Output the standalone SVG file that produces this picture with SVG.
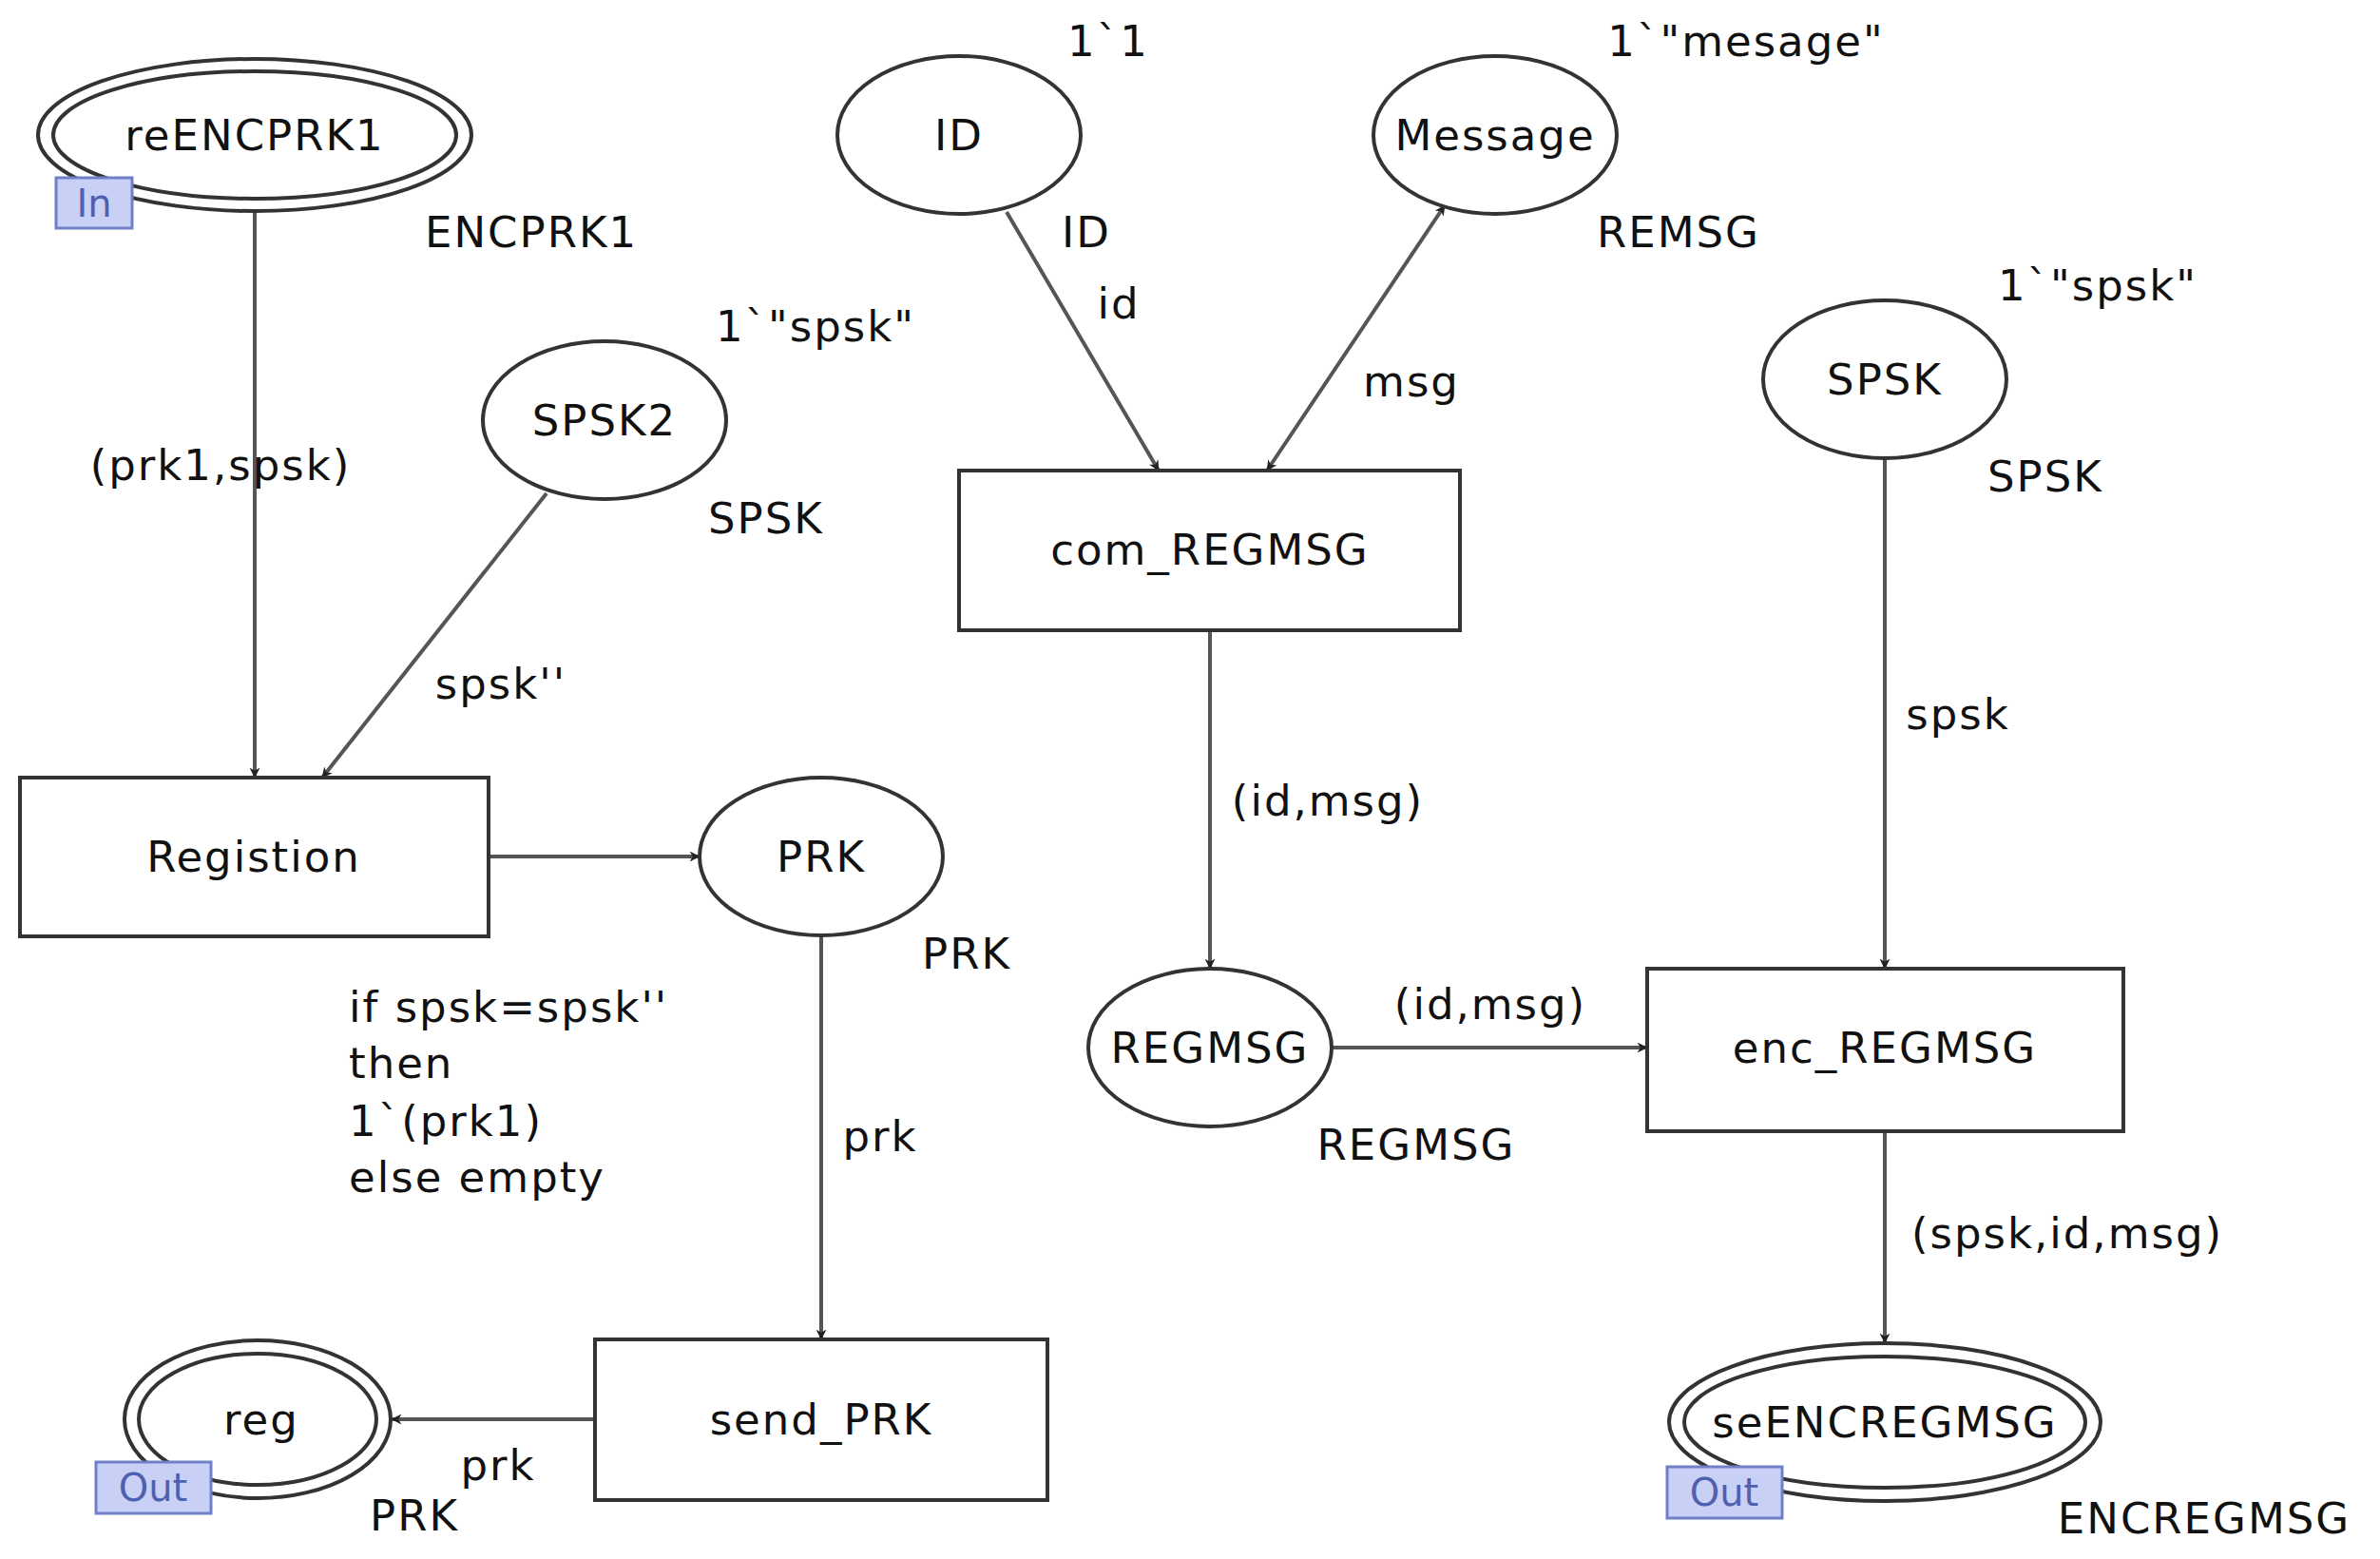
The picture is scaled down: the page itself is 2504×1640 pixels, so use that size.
<svg xmlns="http://www.w3.org/2000/svg" width="2504" height="1640" viewBox="0 0 2504 1640">
<style>
text{font-family:"DejaVu Sans","Liberation Sans",sans-serif;font-size:45px;fill:#111;letter-spacing:2px}
.c{text-anchor:middle}
.n{fill:#fff;stroke:#333;stroke-width:4}
.a{fill:none;stroke:#555;stroke-width:4}
.tag{fill:#c8d0f5;stroke:#7080c8;stroke-width:3}
.tt{fill:#5060b0;font-size:40px;letter-spacing:0}
</style>
<defs>
<marker id="ah" viewBox="0 0 20 20" refX="19" refY="10" markerWidth="11" markerHeight="11" markerUnits="userSpaceOnUse" orient="auto-start-reverse">
<path d="M0,0 L20,10 L0,20 L6,10 Z" fill="#222"/>
</marker>
</defs>
<rect width="2504" height="1640" fill="#fff"/>
<g id="connectors">
<line class="a" x1="268" y1="223" x2="268" y2="818" marker-end="url(#ah)" style="marker-end:url(#ah)"/>
<line class="a" x1="575" y1="519" x2="339" y2="818" marker-end="url(#ah)"/>
<line class="a" x1="514" y1="901" x2="736" y2="901" marker-end="url(#ah)"/>
<line class="a" x1="864" y1="984" x2="864" y2="1409" marker-end="url(#ah)"/>
<line class="a" x1="626" y1="1493" x2="412" y2="1493" marker-end="url(#ah)"/>
<line class="a" x1="1059" y1="223" x2="1219" y2="495" marker-end="url(#ah)"/>
<line class="a" x1="1520" y1="216" x2="1333" y2="495" marker-start="url(#ah)" marker-end="url(#ah)"/>
<line class="a" x1="1273" y1="663" x2="1273" y2="1019" marker-end="url(#ah)"/>
<line class="a" x1="1401" y1="1102" x2="1733" y2="1102" marker-end="url(#ah)"/>
<line class="a" x1="1983" y1="482" x2="1983" y2="1019" marker-end="url(#ah)"/>
<line class="a" x1="1983" y1="1190" x2="1983" y2="1413" marker-end="url(#ah)"/>
<text x="232" y="505" class="c">(prk1,spsk)</text>
<text x="527" y="735" class="c">spsk''</text>
<text x="926" y="1211" class="c">prk</text>
<text x="524" y="1557" class="c">prk</text>
<text x="1143" y="260" class="c">ID</text>
<text x="1177" y="335" class="c">id</text>
<text x="1485" y="417" class="c">msg</text>
<text x="1397" y="858" class="c">(id,msg)</text>
<text x="1568" y="1072" class="c">(id,msg)</text>
<text x="2060" y="767" class="c">spsk</text>
<text x="2175" y="1313" class="c">(spsk,id,msg)</text>
<text x="367" y="1075">if spsk=spsk''</text>
<text x="367" y="1134">then</text>
<text x="367" y="1195">1`(prk1)</text>
<text x="367" y="1254">else empty</text>
</g>
<g id="reENCPRK1">
<ellipse class="n" cx="268" cy="142" rx="228" ry="80"/>
<ellipse class="n" cx="268" cy="142" rx="212" ry="67"/>
<text x="268" y="158" class="c">reENCPRK1</text>
<rect class="tag" x="59" y="187" width="80" height="53"/>
<text x="99" y="228" class="c tt">In</text>
<text x="447" y="260">ENCPRK1</text>
</g>
<g id="SPSK2">
<ellipse class="n" cx="636" cy="442" rx="128" ry="83"/>
<text x="636" y="458" class="c">SPSK2</text>
<text x="858" y="359" class="c">1`"spsk"</text>
<text x="745" y="561">SPSK</text>
</g>
<g id="Registion">
<rect class="n" x="21" y="818" width="493" height="167"/>
<text x="267" y="917" class="c">Registion</text>
</g>
<g id="PRK">
<ellipse class="n" cx="864" cy="901" rx="128" ry="83"/>
<text x="864" y="917" class="c">PRK</text>
<text x="970" y="1019">PRK</text>
</g>
<g id="send_PRK">
<rect class="n" x="626" y="1409" width="476" height="169"/>
<text x="864" y="1509" class="c">send_PRK</text>
</g>
<g id="reg">
<ellipse class="n" cx="271" cy="1493" rx="140" ry="83"/>
<ellipse class="n" cx="271" cy="1493" rx="125" ry="69"/>
<text x="275" y="1509" class="c">reg</text>
<rect class="tag" x="101" y="1538" width="121" height="54"/>
<text x="161" y="1579" class="c tt">Out</text>
<text x="436" y="1610" class="c">PRK</text>
</g>
<g id="ID">
<ellipse class="n" cx="1009" cy="142" rx="128" ry="83"/>
<text x="1009" y="158" class="c">ID</text>
<text x="1166" y="59" class="c">1`1</text>
</g>
<g id="Message">
<ellipse class="n" cx="1573" cy="142" rx="128" ry="83"/>
<text x="1573" y="158" class="c">Message</text>
<text x="1837" y="59" class="c">1`"mesage"</text>
<text x="1680" y="260">REMSG</text>
</g>
<g id="com_REGMSG">
<rect class="n" x="1009" y="495" width="527" height="168"/>
<text x="1273" y="594" class="c">com_REGMSG</text>
</g>
<g id="REGMSG">
<ellipse class="n" cx="1273" cy="1102" rx="128" ry="83"/>
<text x="1273" y="1118" class="c">REGMSG</text>
<text x="1490" y="1220" class="c">REGMSG</text>
</g>
<g id="SPSK">
<ellipse class="n" cx="1983" cy="399" rx="128" ry="83"/>
<text x="1983" y="415" class="c">SPSK</text>
<text x="2207" y="316" class="c">1`"spsk"</text>
<text x="2091" y="517">SPSK</text>
</g>
<g id="enc_REGMSG">
<rect class="n" x="1733" y="1019" width="501" height="171"/>
<text x="1983" y="1118" class="c">enc_REGMSG</text>
</g>
<g id="seENCREGMSG">
<ellipse class="n" cx="1983" cy="1496" rx="227" ry="83"/>
<ellipse class="n" cx="1983" cy="1496" rx="211" ry="69"/>
<text x="1983" y="1512" class="c">seENCREGMSG</text>
<rect class="tag" x="1754" y="1543" width="121" height="54"/>
<text x="1814" y="1584" class="c tt">Out</text>
<text x="2319" y="1613" class="c">ENCREGMSG</text>
</g>
</svg>
